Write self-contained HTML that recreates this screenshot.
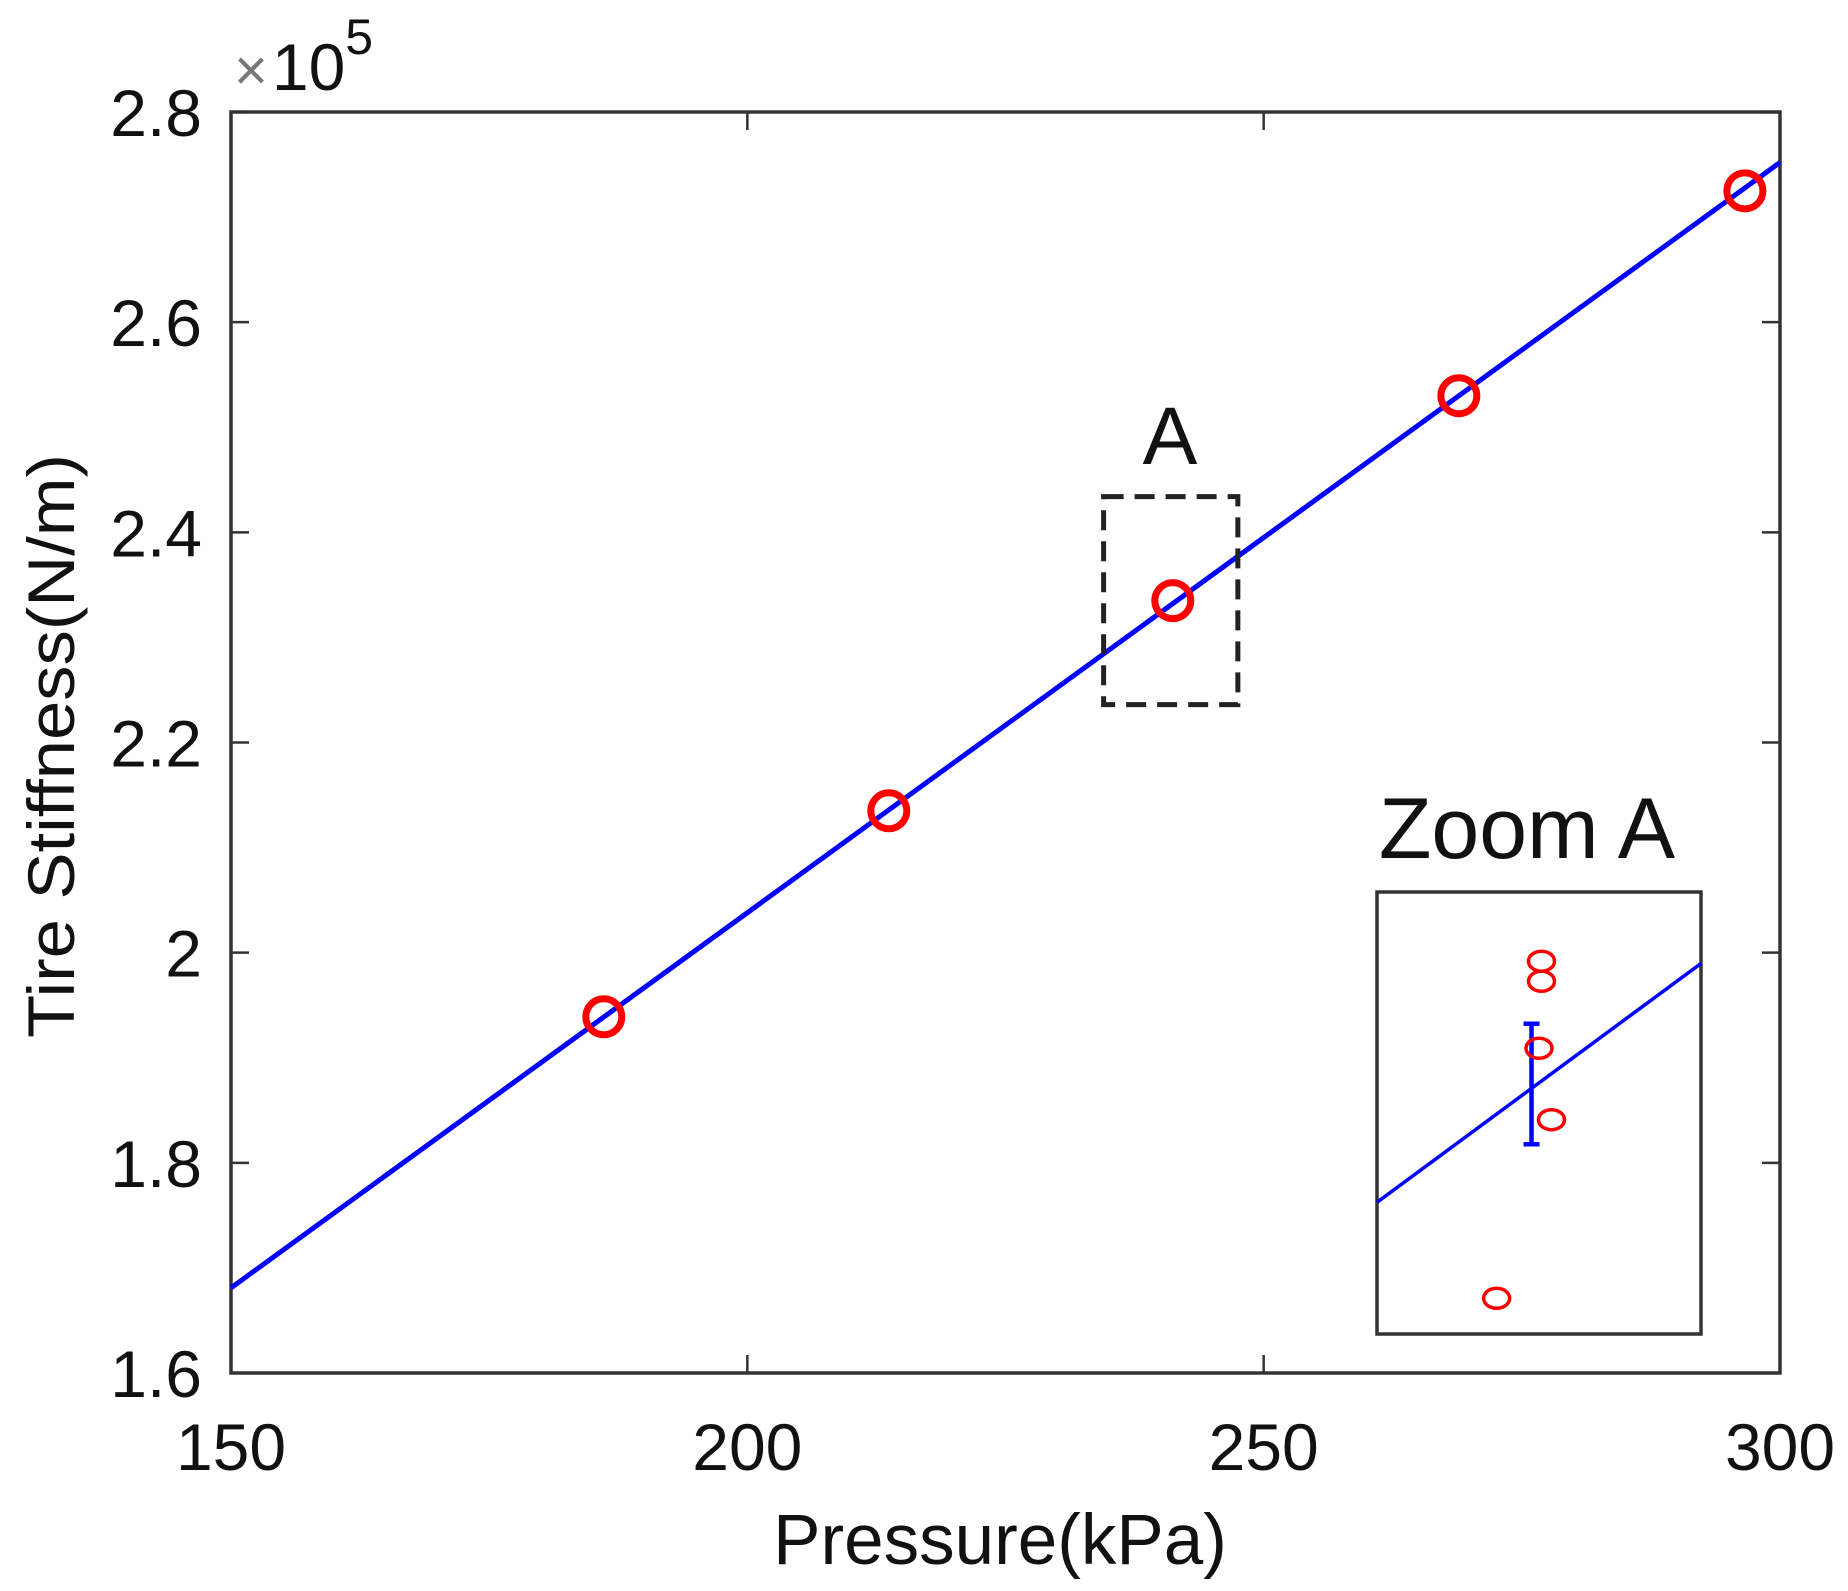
<!DOCTYPE html>
<html><head><meta charset="utf-8"><style>
body{margin:0;background:#fff;}
svg{display:block;font-family:"Liberation Sans",Arial,sans-serif;}
</style></head><body>
<svg id="chart" width="1848" height="1591" viewBox="0 0 1848 1591" xmlns="http://www.w3.org/2000/svg">
<rect width="1848" height="1591" fill="#fff"/>
<g id="main"></g>
</svg>
<script>
const xTicks=[150,200,250,300];
const xTickLabels=["150","200","250","300"];
const yTicks=[1.6,1.8,2.0,2.2,2.4,2.6,2.8];
const yTickLabels=["1.6","1.8","2","2.2","2.4","2.6","2.8"];
const pressure=[186.1,213.7,241.2,268.9,296.6];
const stiffness=[1.939,2.135,2.335,2.530,2.725];
const fitX=[150,300];
const fitY=[1.681,2.752];
const zoomBoxX=[234.5,247.5];
const zoomBoxY=[2.236,2.434];
const insetFitX=[234.5,247.5];
const insetFitY=[2.295,2.402];
const insetPx=[241.1,241.1,241.0,241.5,239.3];
const insetPy=[2.403,2.394,2.364,2.332,2.252];
const insetErrX=[240.7];
const insetErrLo=[2.321];
const insetErrHi=[2.375];

const NS="http://www.w3.org/2000/svg";
const g=document.getElementById('main');
const L=231,R=1780,T=112,B=1373;
const xs=v=>L+(v-150)/150*(R-L);
const ys=v=>B-(v-1.6)/1.2*(B-T);
const IL=1377,IR=1701,IT=892,IB=1334;
const ixs=v=>IL+(v-zoomBoxX[0])/(zoomBoxX[1]-zoomBoxX[0])*(IR-IL);
const iys=v=>IB-(v-zoomBoxY[0])/(zoomBoxY[1]-zoomBoxY[0])*(IB-IT);
function mk(tag,attrs,parent){const e=document.createElementNS(NS,tag);for(const k in attrs)e.setAttribute(k,attrs[k]);(parent||g).appendChild(e);return e;}

let box=mk('rect',{x:L,y:T,width:R-L,height:B-T,fill:'none',stroke:'#333',"stroke-width":3.5});



xTicks.forEach((t,i)=>{
  const x=xs(t);
  let tk=mk('path',{d:`M${x},${B}v-18M${x},${T}v18`,stroke:'#333',"stroke-width":2.5});
  
  
  let lb=mk('text',{x:x,y:1470,"font-size":66,"text-anchor":"middle",fill:'#111'});
  lb.textContent=xTickLabels[i];
  
  
});
yTicks.forEach((t,i)=>{
  const y=ys(t);
  let tk=mk('path',{d:`M${L},${y}h18M${R},${y}h-18`,stroke:'#333',"stroke-width":2.5});
  
  
  let lb=mk('text',{x:202,y:y+24,"font-size":66,"text-anchor":"end",fill:'#111'});
  lb.textContent=yTickLabels[i];
  
  
});

let ex=mk('text',{x:234,y:90,"font-size":66,fill:'#111'});
ex.innerHTML='<tspan fill="#777" font-size="58">×</tspan><tspan dx="4">10</tspan><tspan dy="-36" font-size="50">5</tspan>';



let xt=mk('text',{x:1000,y:1564,"font-size":71,"text-anchor":"middle",fill:'#111'});
xt.textContent='Pressure(kPa)';


let yt=mk('text',{x:0,y:0,"font-size":66,"text-anchor":"middle",fill:'#111',transform:'translate(74,746) rotate(-90)',textLength:584,lengthAdjust:'spacingAndGlyphs'});
yt.textContent='Tire Stiffness(N/m)';



let fl=mk('line',{x1:xs(fitX[0]),y1:ys(fitY[0]),x2:xs(fitX[1]),y2:ys(fitY[1]),stroke:'#0000ff',"stroke-width":5});



pressure.forEach((p,i)=>{
  let c=mk('circle',{cx:xs(p),cy:ys(stiffness[i]),r:18,fill:'none',stroke:'#ff0000',"stroke-width":7});
  
  
});

let zb=mk('rect',{x:xs(zoomBoxX[0]),y:ys(zoomBoxY[1]),width:xs(zoomBoxX[1])-xs(zoomBoxX[0]),height:ys(zoomBoxY[0])-ys(zoomBoxY[1]),fill:'none',stroke:'#222',"stroke-width":5,"stroke-dasharray":"20,11"});


let za=mk('text',{x:1170,y:464,"font-size":82,"text-anchor":"middle",fill:'#111'});
za.textContent='A';



let ib=mk('rect',{x:IL,y:IT,width:IR-IL,height:IB-IT,fill:'#fff',stroke:'#333',"stroke-width":3.5});


let it=mk('text',{x:1527,y:858,"font-size":86,"text-anchor":"middle",fill:'#111'});
it.textContent='Zoom A';


let il=mk('line',{x1:ixs(insetFitX[0]),y1:iys(insetFitY[0]),x2:ixs(insetFitX[1]),y2:iys(insetFitY[1]),stroke:'#0000ff',"stroke-width":3.5});


insetErrX.forEach((x,i)=>{
  const X=ixs(x),y1=iys(insetErrHi[i]),y2=iys(insetErrLo[i]);
  let e=mk('path',{d:`M${X},${y1}V${y2}M${X-8},${y1}h16M${X-8},${y2}h16`,stroke:'#0000ff',"stroke-width":4.5,fill:'none'});
  
  
});
insetPx.forEach((x,i)=>{
  let c=mk('ellipse',{cx:ixs(x),cy:iys(insetPy[i]),rx:13,ry:10,fill:'none',stroke:'#ff0000',"stroke-width":3.5});
  
  
});
</script>
</body></html>
